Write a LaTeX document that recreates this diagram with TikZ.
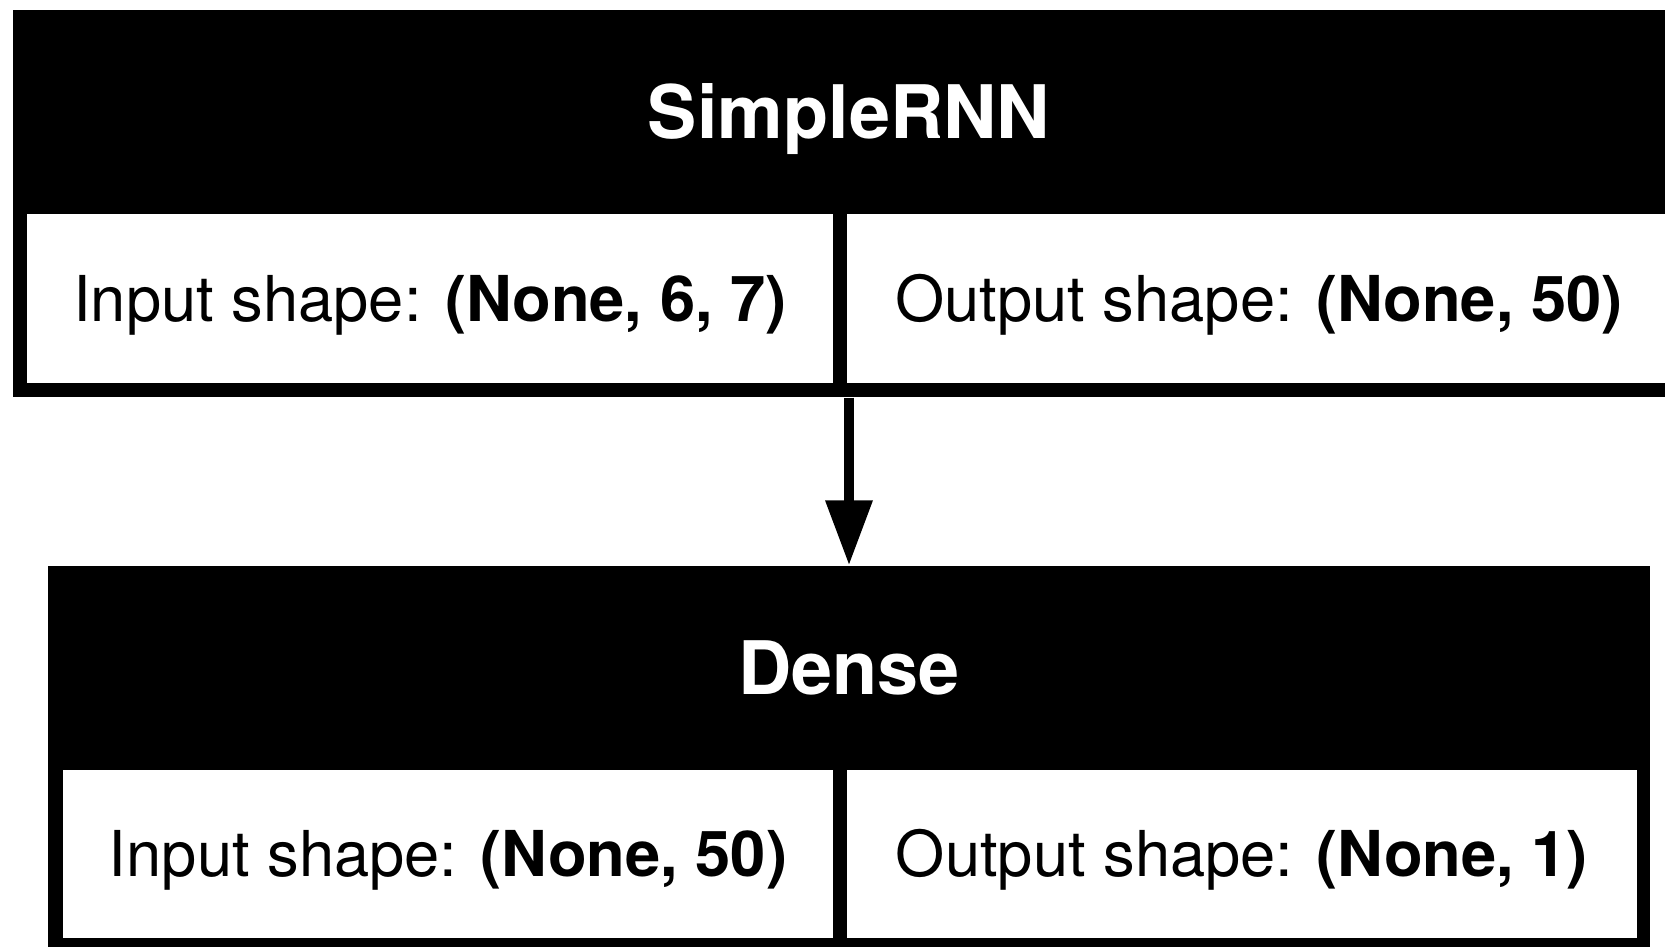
\documentclass[tikz,border=0pt]{standalone}
\usepackage{fontspec}
\setmainfont{TeX Gyre Heros}
\usetikzlibrary{arrows.meta}

\begin{document}
\begin{tikzpicture}[>={Triangle[length=0.65cm, width=0.45cm]},
    layerbox/.style={rectangle, fill=black, inner sep=0pt},
    shapecell/.style={rectangle, fill=white, inner sep=0pt, text height=13pt, text depth=0pt, font=\fontsize{18}{22}\selectfont},
    layername/.style={text=white, inner sep=0pt, text height=15.1pt, text depth=0pt, font=\fontsize{21}{25}\selectfont\bfseries}]
    % 画面范围和白色背景
    \useasboundingbox (0, 0) rectangle (16.65, -9.47);
    \fill[white] (0, 0) rectangle (16.65, -9.47);

    % SimpleRNN 层
    \node[layerbox, minimum width=16.72cm, minimum height=3.87cm] (rnn) at (8.49, -2.035) {};
    \node[layername] (rnnname) at (8.49, -1.12) {SimpleRNN};
    \node[shapecell, minimum width=8.06cm, minimum height=1.69cm] (rnnin) at (4.30, -2.985) {Input shape: \textbf{(None, 6, 7)}};
    \node[shapecell, minimum width=8.24cm, minimum height=1.69cm] (rnnout) at (12.59, -2.985) {Output shape: \textbf{(None, 50)}};

    % Dense 层
    \node[layerbox, minimum width=16.02cm, minimum height=3.86cm] (dense) at (8.49, -7.59) {};
    \node[layername] (densename) at (8.49, -6.68) {Dense};
    \node[shapecell, minimum width=7.70cm, minimum height=1.68cm] (densein) at (4.48, -8.54) {Input shape: \textbf{(None, 50)}};
    \node[shapecell, minimum width=7.90cm, minimum height=1.68cm] (denseout) at (12.42, -8.54) {Output shape: \textbf{(None, 1)}};

    % 箭头
    \draw[->, line width=0.1cm] (rnn.south) -- (dense.north);
\end{tikzpicture}
\end{document}
